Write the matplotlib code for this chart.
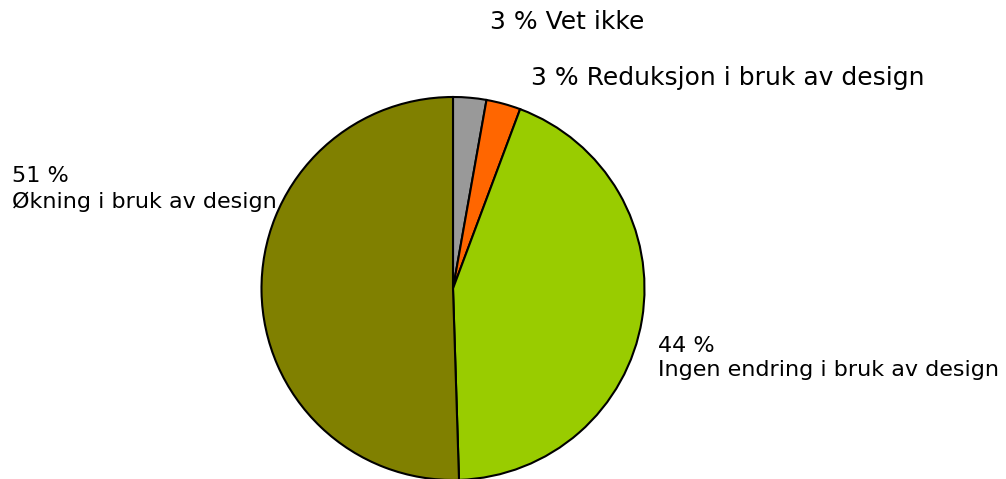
import matplotlib
matplotlib.use("Agg")
import matplotlib.pyplot as plt

etiketter = ["Vet ikke", "Reduksjon i bruk av design",
             "Ingen endring i bruk av design", "Økning i bruk av design"]
andeler = [2.8, 2.9, 43.8, 50.5]
prosent = ["3 %", "3 %", "44 %", "51 %"]
farger = ["#999999", "#FF6600", "#99CC00", "#808000"]

fig = plt.figure(figsize=(10.06, 4.79), dpi=100)
ax = fig.add_axes([0, 0, 1, 1])

ax.pie(andeler, colors=farger, startangle=90, counterclock=False,
       center=(453, 479 - 288.5), radius=191.5, frame=True,
       wedgeprops=dict(edgecolor="black", linewidth=1.5))
ax.set_xlim(0, 1006)
ax.set_ylim(0, 479)
ax.set_aspect('equal')
ax.axis('off')

# etiketter, plassert som i originalen
ax.text(490, 479 - 22, f"{prosent[0]} {etiketter[0]}", fontsize=18, va="center", ha="left")
ax.text(531, 479 - 78, f"{prosent[1]} {etiketter[1]}", fontsize=18, va="center", ha="left")
ax.text(658, 479 - 358, f"{prosent[2]}\n{etiketter[2]}", fontsize=16, va="center", ha="left",
        linespacing=1.3)
ax.text(12, 479 - 189, f"{prosent[3]}\n{etiketter[3]}", fontsize=16, va="center", ha="left",
        linespacing=1.3)

fig.savefig("out.png", dpi=100)
